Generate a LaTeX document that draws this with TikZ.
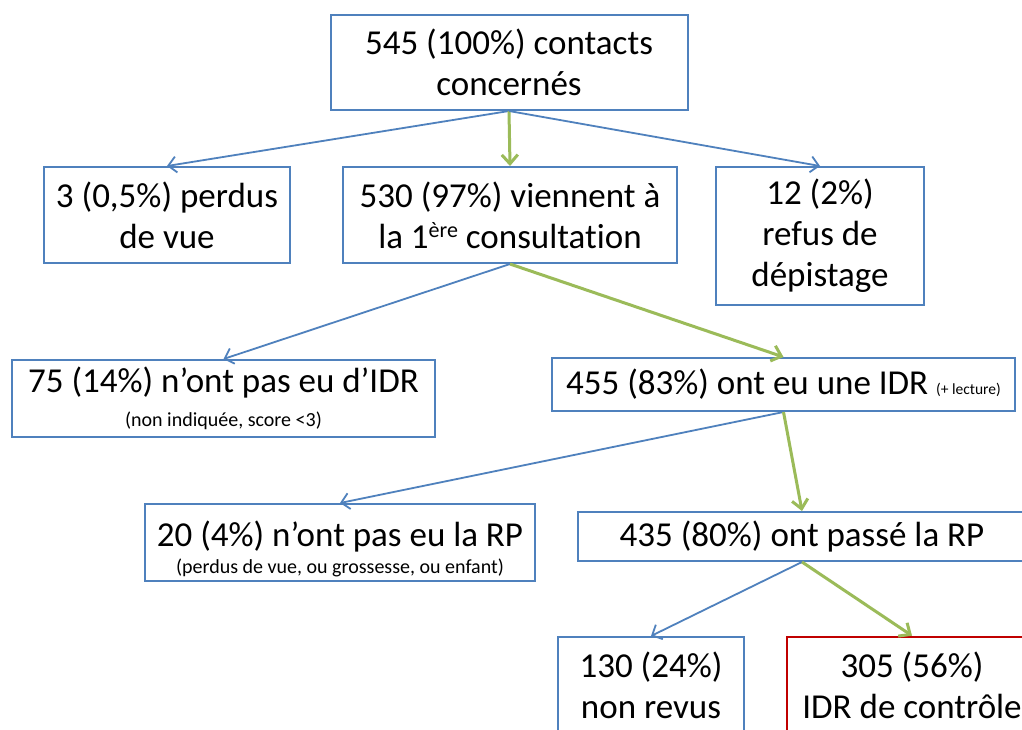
\documentclass[tikz,border=0pt]{standalone}
\usepackage{fontspec}
\setmainfont{Carlito}[Ligatures=CommonOff]
\usetikzlibrary{arrows.meta}
\definecolor{boxblue}{RGB}{79,129,189}
\definecolor{arrgreen}{RGB}{155,187,89}
\definecolor{boxred}{RGB}{192,0,0}
\begin{document}
\begin{tikzpicture}[x=1pt,y=-1pt,
  box/.style={draw=boxblue, line width=2pt, inner sep=0pt, align=center,
    font=\fontsize{35}{41}\selectfont},
  redbox/.style={box, draw=boxred, line width=2.6pt},
  bluearrow/.style={draw=boxblue, line width=1.8pt, -{Straight Barb[length=8pt,width=16pt]}},
  greenarrow/.style={draw=arrgreen, line width=3pt, -{Straight Barb[length=9pt,width=16pt]}}]
\useasboundingbox (0,0) rectangle (1022,729);
\fill[white] (0,0) rectangle (1022,729);
\begin{scope}
\clip (0,0) rectangle (1022,729);
\node[box, minimum width=357pt, minimum height=95pt] (top) at (509,62.5)
  {545 (100\%) contacts\\concernés};
\node[box, minimum width=246pt, minimum height=96pt] (perdus) at (167,215)
  {3 (0,5\%) perdus\\de vue};
\node[box, minimum width=334pt, minimum height=96pt] (viennent) at (510,215)
  {530 (97\%) viennent à\\la 1\raisebox{11pt}{\fontsize{22}{22}\selectfont ère} consultation};
\node[box, minimum width=208pt, minimum height=138pt] (refus) at (820,236)
  {12 (2\%)\\refus de\\dépistage};
\node[box, minimum width=423pt, minimum height=77pt] (pas) at (223.5,398.5)
  {75 (14\%) n’ont pas eu d’IDR\\[-7pt]{\fontsize{20}{22}\selectfont (non indiquée, score <3)}};
\node[box, minimum width=463pt, minimum height=53pt] (idr) at (783.5,384.5)
  {455 (83\%) ont eu une IDR {\fontsize{15.5}{17}\selectfont (+ lecture)}};
\node[box, minimum width=390pt, minimum height=77pt] (pasrp) at (340,542.5)
  {\rule{0pt}{33pt}\raisebox{-5pt}{20 (4\%) n’ont pas eu la RP}\\[-9pt]{\fontsize{20}{22}\selectfont (perdus de vue, ou grossesse, ou enfant)}};
\node[box, minimum width=448pt, minimum height=49pt] (rp) at (802,536.5)
  {435 (80\%) ont passé la RP};
\node[box, minimum width=186pt, minimum height=96pt] (revus) at (651,685)
  {130 (24\%)\\non revus};
\node[redbox, minimum width=250pt, minimum height=96pt] (ctrl) at (912,685)
  {305 (56\%)\\IDR de contrôle};
\draw[bluearrow] (top.south) -- (perdus.north);
\draw[greenarrow] (top.south) -- (viennent.north);
\draw[bluearrow] (top.south) -- (refus.north);
\draw[bluearrow] (viennent.south) -- (pas.north);
\draw[greenarrow] (viennent.south) -- (idr.north);
\draw[bluearrow] (idr.south) -- (pasrp.north);
\draw[greenarrow] (idr.south) -- (rp.north);
\draw[bluearrow] (rp.south) -- (revus.north);
\draw[greenarrow] (rp.south) -- (ctrl.north);
\end{scope}
\end{tikzpicture}
\end{document}
